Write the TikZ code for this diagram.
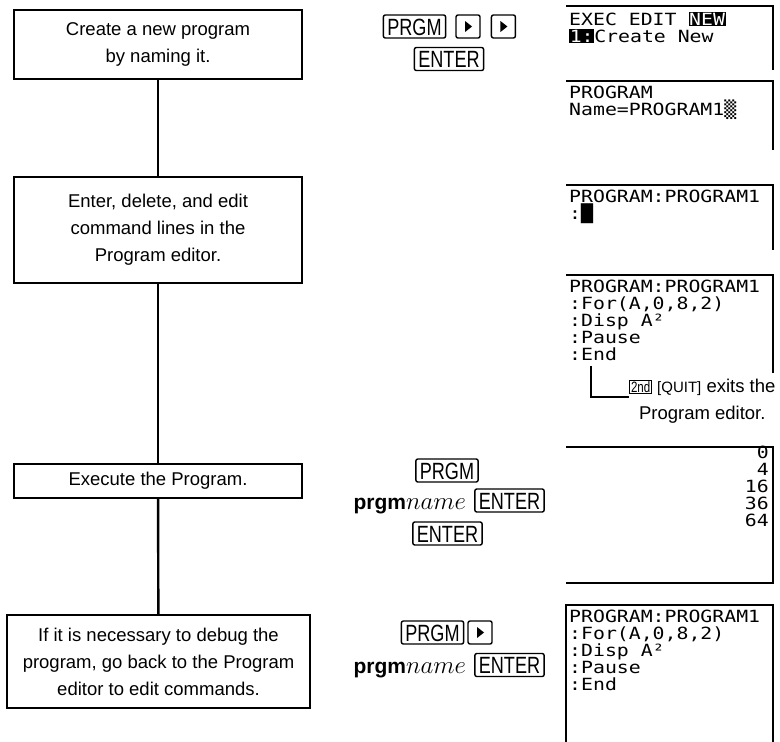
\documentclass[tikz,border=0pt]{standalone}
\usepackage{fontspec}
\usepackage{xcolor}
\setmainfont{Liberation Sans}
\newfontfamily\keyfont[FakeStretch=0.77]{Liberation Sans}
\newfontfamily\lcdfont[FakeStretch=1.18]{DejaVu Sans Mono}
\usetikzlibrary{positioning}
\newcommand\lcdinv[1]{{\setlength\fboxsep{0.6pt}\colorbox{black}{\textcolor{white}{#1}}}}
\newcommand\inkey[1]{{\setlength\fboxsep{1pt}\setlength\fboxrule{0.8pt}\fbox{\keyfont\fontsize{15}{15}\selectfont #1}}}

\tikzset{
    stepbox/.style={draw, line width=2.4pt, align=center, minimum width=288pt, inner sep=0pt, font=\fontsize{18.5}{27}\selectfont},
    keybox/.style={draw, line width=1.4pt, rounded corners=2pt, inner xsep=4pt, inner ysep=3pt, text height=17pt, text depth=0pt, font=\keyfont\fontsize{23.5}{23.5}\selectfont},
    arrowkey/.style={draw, line width=1.4pt, rounded corners=2pt, minimum width=24pt, minimum height=23pt, inner sep=0pt},
    lcd/.style={anchor=base west, inner sep=0pt, text height=12pt, text depth=1pt, font=\lcdfont\fontsize{16.8}{17}\selectfont},
    lcdframe/.style={line width=1.6pt},
    flow/.style={line width=2.4pt},
    prgmtext/.style={inner sep=0pt, font=\fontsize{21}{21}\selectfont}
}

\begin{document}
\begin{tikzpicture}[x=1pt, y=-1pt]
    \useasboundingbox (0,0) rectangle (780,742);

    % steps on the left
    \node[stepbox, minimum height=69pt] (create) at (158,44.5) {Create a new program\\by naming it.};
    \node[stepbox, minimum height=106pt] (enter) at (158,230) {Enter, delete, and edit\\command lines in the\\Program editor.};
    \node[stepbox, minimum height=34pt] (execute) at (158,481) {Execute the Program.};
    \node[stepbox, minimum height=93pt, minimum width=303pt] (debug) at (158.5,661.5) {If it is necessary to debug the\\program, go back to the Program\\editor to edit commands.};
    \draw[flow] (create) -- (enter);
    \draw[flow] (enter) -- (execute);
    \draw[flow] (execute) -- (debug);

    % key strokes
    \node[keybox] (prgmA) at (414.5,26.5) {PRGM};
    \node[arrowkey, right=9pt of prgmA] (arrA) {};
    \node[arrowkey, right=10pt of arrA] (arrB) {};
    \node[keybox] (enterA) at (449,59) {ENTER};

    \node[keybox] (prgmB) at (447,470.5) {PRGM};
    \node[keybox] (enterB) at (509.5,500.5) {ENTER};
    \node[prgmtext, anchor=base east] (nameB) at ([xshift=-8pt]enterB.base west) {\textbf{prgm}{\fontsize{25}{25}\selectfont$name$}};
    \node[keybox] (enterC) at (447.5,533.5) {ENTER};

    \node[keybox] (prgmC) at (432.5,632.5) {PRGM};
    \node[arrowkey, right=3pt of prgmC] (arrC) {};
    \node[keybox] (enterD) at (509.5,665) {ENTER};
    \node[prgmtext, anchor=base east] (nameD) at ([xshift=-8pt]enterD.base west) {\textbf{prgm}{\fontsize{25}{25}\selectfont$name$}};

    \foreach \k in {arrA, arrB, arrC}
        \fill ([shift={(-3,-5.5)}]\k.center) -- ++(7,5.5) -- ++(-7,5.5) -- cycle;

    % screens
    \draw[lcdframe] (566,6) -- (773,6) -- (773,70);
    \node[lcd] (menuA) at (569,25) {EXEC EDIT \lcdinv{NEW}};
    \node[lcd] (menuB) at (569,42) {\lcdinv{1:}Create New};

    \draw[lcdframe] (566,81) -- (773,81) -- (773,150);
    \node[lcd] (nameA) at (569,98) {PROGRAM};
    \node[lcd] (nameL) at (569,115) {Name=PROGRAM1▒};

    \draw[lcdframe] (566,185) -- (773,185) -- (773,250);
    \node[lcd] (emptyA) at (569,202) {PROGRAM:PROGRAM1};
    \node[lcd] (emptyB) at (569,219) {:█};

    \draw[lcdframe] (566,275) -- (773,275) -- (773,373);
    \foreach \txt [count=\i from 0] in {{PROGRAM:PROGRAM1},{:For(A,0,8,2)},{:Disp A²},{:Pause},{:End}}
        \node[lcd] (edit\i) at (569,292+17*\i) {\txt};

    \draw[lcdframe] (566,447) -- (773,447) -- (773,583) -- (566,583);
    \foreach \val [count=\i from 0] in {0,4,16,36,64}
        \node[lcd, anchor=base east] (out\i) at (769,458+17*\i) {\val};

    \draw[lcdframe] (566,742) -- (566,605) -- (773,605) -- (773,742);
    \foreach \txt [count=\i from 0] in {{PROGRAM:PROGRAM1},{:For(A,0,8,2)},{:Disp A²},{:Pause},{:End}}
        \node[lcd] (again\i) at (569,622+17*\i) {\txt};

    % quit note
    \coordinate (noteTop) at (591,366);
    \node[align=center, anchor=west, inner sep=0pt, font=\fontsize{18.5}{27}\selectfont] (quitnote) at (629,401)
        {\inkey{2nd} {\fontsize{15}{15}\selectfont[QUIT]} exits the\\Program editor.};
    \draw[line width=2pt] (noteTop) |- ([yshift=4pt]quitnote.west);
\end{tikzpicture}
\end{document}
